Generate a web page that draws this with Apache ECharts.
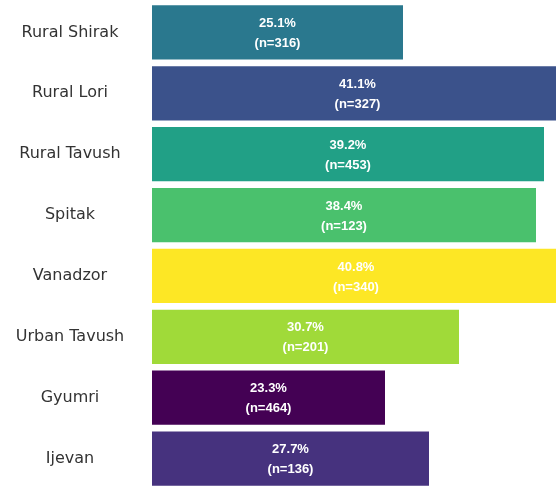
<!DOCTYPE html>
<html>
<head>
<meta charset="utf-8">
<script src="https://cdn.jsdelivr.net/npm/echarts@6/dist/echarts.min.js"></script>
<style>
  html, body { margin: 0; padding: 0; background: #ffffff; }
  #chart { width: 556px; height: 486px; }
</style>
</head>
<body>
<div id="chart"></div>
<script>
// Regions, listed top to bottom
const regions = ['Rural Shirak', 'Rural Lori', 'Rural Tavush', 'Spitak', 'Vanadzor', 'Urban Tavush', 'Gyumri', 'Ijevan'];
// Share of respondents (%)
const shares = [25.1, 41.1, 39.2, 38.4, 40.8, 30.7, 23.3, 27.7];
// Sample size per region
const sampleSizes = [316, 327, 453, 123, 340, 201, 464, 136];
// Bar colours (viridis palette)
const barColors = ['#2a788e', '#3b528b', '#21a086', '#4ac16d', '#fde725', '#a0da39', '#440154', '#46327e'];

const chart = echarts.init(document.getElementById('chart'), null, { renderer: 'canvas' });

const data = shares.map((v, i) => ({
  value: v,
  n: sampleSizes[i],
  itemStyle: { color: barColors[i] }
}));

chart.setOption({
  animation: false,
  backgroundColor: '#ffffff',
  grid: {
    left: 152, top: 2, width: 450, height: 487,
    containLabel: false,
    outerBoundsMode: 'none'
  },
  xAxis: {
    type: 'value',
    min: 0,
    max: 45,
    show: false
  },
  yAxis: {
    type: 'category',
    data: regions,
    inverse: true,
    axisLine: { show: false },
    axisTick: { show: false },
    axisLabel: {
      margin: 82,
      align: 'center',
      fontFamily: 'DejaVu Sans',
      fontSize: 16,
      color: '#333333'
    }
  },
  series: [{
    type: 'bar',
    data: data,
    barCategoryGap: '11%',
    clip: false,
    label: {
      show: true,
      position: 'inside',
      offset: [0, 1],
      formatter: p => p.value.toFixed(1) + '%\n(n=' + p.data.n + ')',
      color: '#ffffff',
      fontFamily: 'Liberation Sans',
      fontWeight: 'bold',
      fontSize: 13,
      lineHeight: 20
    }
  }]
});
</script>
</body>
</html>
